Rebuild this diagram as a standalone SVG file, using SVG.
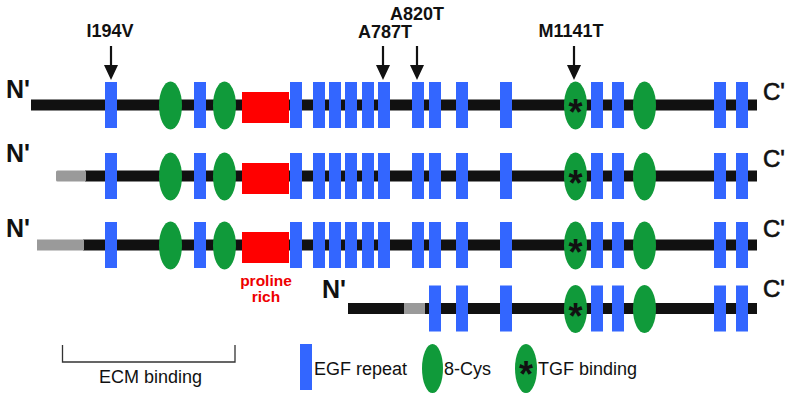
<svg xmlns="http://www.w3.org/2000/svg" width="795" height="401" viewBox="0 0 795 401">
<style>
  .egf{fill:#3366ff}
  .cys{fill:#109a3a}
  .pro{fill:#ff0000}
  .bb{fill:#111}
  .gr{fill:#9a9a9a}
  .lbl{font-family:"Liberation Sans",Arial,sans-serif;font-weight:bold;font-size:18px;fill:#111;text-anchor:middle}
  .nt{font-family:"Liberation Sans",Arial,sans-serif;font-weight:bold;font-size:25px;fill:#111}
  .ct{font-family:"Liberation Sans",Arial,sans-serif;font-size:24px;fill:#111;stroke:#111;stroke-width:0.6}
  .ast{font-family:"Liberation Sans",Arial,sans-serif;font-weight:bold;font-size:36px;fill:#111;text-anchor:middle}
  .leg{font-family:"Liberation Sans",Arial,sans-serif;font-size:18px;fill:#111}
  .prt{font-family:"Liberation Sans",Arial,sans-serif;font-weight:bold;font-size:15.5px;fill:#ee0000;text-anchor:middle}
  .arr{stroke:#111;stroke-width:2.2;fill:none}
  .head{fill:#111}
</style>
<defs>
  <g id="full">
    <rect class="egf" x="105" y="-23" width="12" height="46"/>
    <ellipse class="cys" cx="170.5" cy="0.5" rx="11.5" ry="24"/>
    <rect class="egf" x="194" y="-23" width="12" height="46"/>
    <ellipse class="cys" cx="224.5" cy="0.5" rx="11.5" ry="24"/>
    <rect class="pro" x="242" y="-13" width="47" height="31"/>
    <rect class="egf" x="290" y="-23" width="12" height="46"/>
    <rect class="egf" x="313" y="-23" width="12" height="46"/>
    <rect class="egf" x="329" y="-23" width="12" height="46"/>
    <rect class="egf" x="345" y="-23" width="12" height="46"/>
    <rect class="egf" x="362" y="-23" width="12" height="46"/>
    <rect class="egf" x="378" y="-23" width="12" height="46"/>
    <rect class="egf" x="412" y="-23" width="12" height="46"/>
  </g>
  <g id="tail">
    <rect class="egf" x="429" y="-23" width="12" height="46"/>
    <rect class="egf" x="456" y="-23" width="12" height="46"/>
    <rect class="egf" x="500" y="-23" width="12" height="46"/>
    <ellipse class="cys" cx="575.5" cy="0.5" rx="11.5" ry="24"/>
    <text class="ast" x="575.5" y="20">*</text>
    <rect class="egf" x="591" y="-23" width="12" height="46"/>
    <rect class="egf" x="612" y="-23" width="12" height="46"/>
    <ellipse class="cys" cx="644.5" cy="0.5" rx="11.5" ry="24"/>
    <rect class="egf" x="714" y="-23" width="12" height="46"/>
    <rect class="egf" x="736" y="-23" width="12" height="46"/>
  </g>
</defs>

<g id="isoform1" transform="translate(0,105)">
  <rect class="bb" x="31" y="-5.5" width="726" height="11"/>
  <use href="#full"/>
  <use href="#tail"/>
  <text class="nt" x="6" y="-7">N'</text>
  <text class="ct" x="763" y="-5">C'</text>
</g>

<g id="isoform2" transform="translate(0,176)">
  <rect class="bb" x="85" y="-5.5" width="672" height="11"/>
  <rect class="gr" x="56" y="-5.5" width="30" height="11" rx="1.5"/>
  <use href="#full"/>
  <use href="#tail"/>
  <text class="nt" x="6" y="-14">N'</text>
  <text class="ct" x="763" y="-9">C'</text>
</g>

<g id="isoform3" transform="translate(0,245)">
  <rect class="bb" x="83" y="-5.5" width="674" height="11"/>
  <rect class="gr" x="37" y="-5.5" width="47" height="11"/>
  <use href="#full"/>
  <use href="#tail"/>
  <text class="nt" x="6" y="-8">N'</text>
  <text class="ct" x="763" y="-8">C'</text>
</g>

<g id="isoform4" transform="translate(0,308.5)">
  <rect class="bb" x="348" y="-5.5" width="409" height="11"/>
  <rect class="gr" x="404" y="-5.5" width="21" height="11"/>
  <use href="#tail"/>
  <text class="nt" x="322" y="-10.5">N'</text>
  <text class="ct" x="763" y="-11.5">C'</text>
</g>

<g id="proline-label">
  <text class="prt" x="266" y="286">proline</text>
  <text class="prt" x="266" y="302">rich</text>
</g>

<g id="mutation-labels">
  <text class="lbl" x="110" y="37">I194V</text>
  <text class="lbl" x="385" y="38">A787T</text>
  <text class="lbl" x="417" y="20">A820T</text>
  <text class="lbl" x="571" y="37">M1141T</text>
</g>

<g id="connectors">
  <line class="arr" x1="111" y1="46" x2="111" y2="66"/>
  <polygon class="head" points="104,65 118,65 111,80"/>
  <line class="arr" x1="383" y1="46" x2="383" y2="66"/>
  <polygon class="head" points="376,65 390,65 383,80"/>
  <line class="arr" x1="417" y1="46" x2="417" y2="66"/>
  <polygon class="head" points="410,65 424,65 417,80"/>
  <line class="arr" x1="574" y1="46" x2="574" y2="66"/>
  <polygon class="head" points="567,65 581,65 574,80"/>
</g>

<g id="ecm">
  <path d="M62.5,345 V362 H235 V345" fill="none" stroke="#333" stroke-width="1.3"/>
  <text class="leg" x="99" y="382.5">ECM binding</text>
</g>

<g id="legend">
  <rect class="egf" x="300" y="344" width="12" height="46"/>
  <text class="leg" x="314" y="375">EGF repeat</text>
  <ellipse class="cys" cx="432.5" cy="368.5" rx="10.5" ry="24.5"/>
  <text class="leg" x="444" y="375">8-Cys</text>
  <ellipse class="cys" cx="526" cy="368.5" rx="11" ry="24.5"/>
  <text class="ast" x="526" y="387">*</text>
  <text class="leg" x="538" y="375">TGF binding</text>
</g>
</svg>
